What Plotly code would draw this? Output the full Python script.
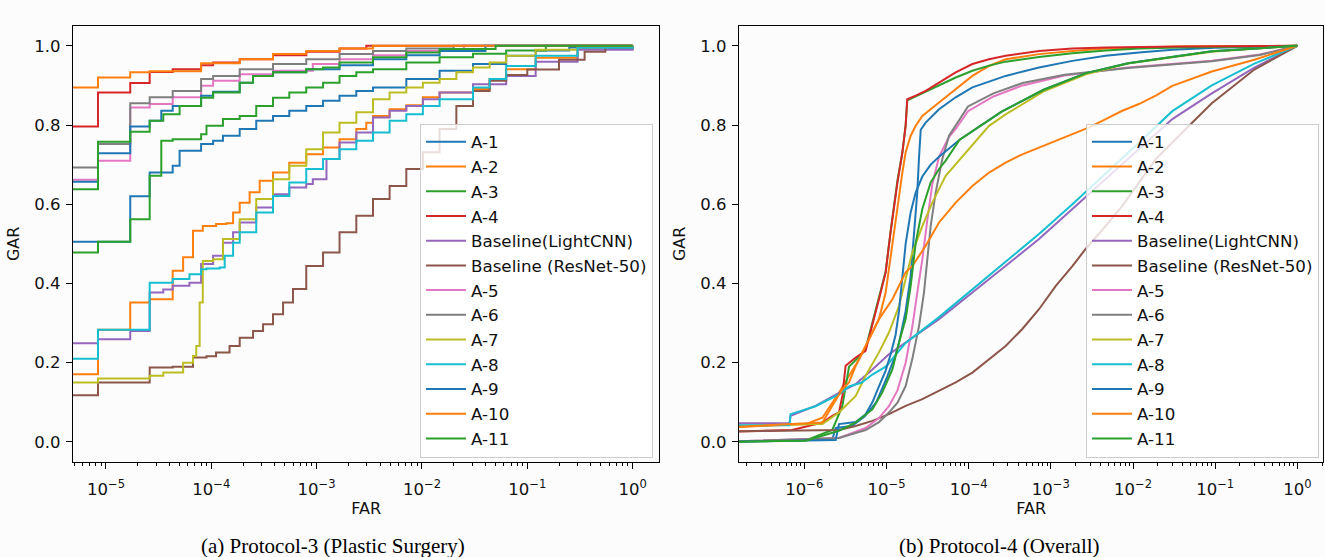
import plotly.graph_objects as go

# ---------------- legend / colours ----------------
NAMES = ["A-1", "A-2", "A-3", "A-4", "Baseline(LightCNN)", "Baseline (ResNet-50)",
         "A-5", "A-6", "A-7", "A-8", "A-9", "A-10", "A-11"]
COLORS = ["#1f77b4", "#ff7f0e", "#2ca02c", "#d62728", "#9467bd", "#8c564b",
          "#e377c2", "#7f7f7f", "#bcbd22", "#17becf", "#1f77b4", "#ff7f0e", "#2ca02c"]

X_TICK_TEXT_P3 = ["10<sup>−5</sup>", "10<sup>−4</sup>", "10<sup>−3</sup>", "10<sup>−2</sup>", "10<sup>−1</sup>", "10<sup>0</sup>"]
X_TICK_VALS_P3 = [1e-5, 1e-4, 1e-3, 1e-2, 1e-1, 1.0]
X_TICK_TEXT_P4 = ["10<sup>−6</sup>"] + X_TICK_TEXT_P3
X_TICK_VALS_P4 = [1e-6] + X_TICK_VALS_P3
Y_TICK_VALS = [0.0, 0.2, 0.4, 0.6, 0.8, 1.0]
Y_TICK_TEXT = ["0.0", "0.2", "0.4", "0.6", "0.8", "1.0"]

# ---------------- Protocol-3 (Plastic Surgery) ----------------
P3_A1_FAR = [1e-6, 1.7e-5, 2.6e-5, 4.3e-5, 5.0e-5, 8.0e-5, 1.04e-4, 1.29e-4, 1.86e-4, 2.67e-4, 3.85e-4, 5.5e-4, 7.97e-4, 1.15e-3, 1.65e-3, 2.38e-3, 3.43e-3, 7.1e-3, 1.47e-2, 3.05e-2, 6.3e-2, 0.12, 0.25, 1.0]
P3_A1_GAR = [0.505, 0.620, 0.680, 0.697, 0.735, 0.752, 0.760, 0.773, 0.790, 0.811, 0.823, 0.836, 0.848, 0.861, 0.874, 0.886, 0.895, 0.916, 0.937, 0.954, 0.975, 0.988, 0.996, 1.0]

P3_A2_FAR = [1e-6, 8.4e-6, 1.7e-5, 2.6e-5, 4.3e-5, 5.4e-5, 6.7e-5, 8.3e-5, 1.11e-4, 1.39e-4, 1.61e-4, 1.86e-4, 2.31e-4, 2.88e-4, 3.85e-4, 5.5e-4, 7.97e-4, 1.15e-3, 1.65e-3, 2.38e-3, 2.96e-3, 3.43e-3, 4.93e-3, 7.1e-3, 1.02e-2, 1.47e-2, 3.05e-2, 4.39e-2, 6.3e-2, 0.12, 0.3, 1.0]
P3_A2_GAR = [0.171, 0.283, 0.352, 0.360, 0.432, 0.466, 0.533, 0.545, 0.550, 0.552, 0.579, 0.604, 0.630, 0.659, 0.680, 0.705, 0.726, 0.743, 0.764, 0.790, 0.806, 0.823, 0.840, 0.850, 0.870, 0.882, 0.891, 0.916, 0.941, 0.970, 0.993, 1.0]

P3_A3_FAR = [1e-6, 8.4e-6, 1.7e-5, 2.6e-5, 3.35e-5, 4.3e-5, 8.0e-5, 9.0e-5, 1.29e-4, 1.86e-4, 2.67e-4, 3.85e-4, 5.5e-4, 7.97e-4, 1.15e-3, 1.65e-3, 2.38e-3, 3.43e-3, 7.1e-3, 1.47e-2, 3.05e-2, 6.3e-2, 0.15, 1.0]
P3_A3_GAR = [0.478, 0.505, 0.562, 0.672, 0.760, 0.764, 0.777, 0.798, 0.815, 0.823, 0.848, 0.869, 0.882, 0.895, 0.907, 0.924, 0.933, 0.941, 0.958, 0.971, 0.980, 0.988, 1.0, 1.0]

P3_A4_FAR = [1e-6, 8.4e-6, 1.7e-5, 2.6e-5, 4.3e-5, 8.0e-5, 1.04e-4, 1.86e-4, 3.85e-4, 7.97e-4, 1.65e-3, 2.96e-3, 1.0]
P3_A4_GAR = [0.796, 0.882, 0.906, 0.934, 0.941, 0.951, 0.958, 0.966, 0.976, 0.985, 0.993, 1.0, 1.0]

P3_LCNN_FAR = [1e-6, 8.4e-6, 1.7e-5, 2.6e-5, 3.5e-5, 4.3e-5, 6.2e-5, 8.0e-5, 1.04e-4, 1.29e-4, 1.61e-4, 1.86e-4, 2.67e-4, 3.85e-4, 5.5e-4, 7.97e-4, 9.2e-4, 1.24e-3, 1.65e-3, 2.38e-3, 3.43e-3, 4.93e-3, 7.1e-3, 1.02e-2, 1.47e-2, 3.05e-2, 6.3e-2, 0.12, 0.3, 1.0]
P3_LCNN_GAR = [0.249, 0.259, 0.280, 0.377, 0.385, 0.394, 0.402, 0.449, 0.470, 0.503, 0.529, 0.554, 0.592, 0.625, 0.642, 0.651, 0.663, 0.714, 0.756, 0.781, 0.819, 0.836, 0.848, 0.865, 0.882, 0.903, 0.924, 0.960, 0.990, 1.0]

P3_RES_FAR = [1e-6, 8.4e-6, 2.6e-5, 4.3e-5, 6.7e-5, 9.0e-5, 1.11e-4, 1.49e-4, 1.86e-4, 2.49e-4, 3.1e-4, 3.85e-4, 4.8e-4, 5.96e-4, 7.97e-4, 1.15e-3, 1.65e-3, 2.38e-3, 3.43e-3, 4.93e-3, 7.1e-3, 1.02e-2, 1.47e-2, 2.12e-2, 3.05e-2, 4.39e-2, 6.3e-2, 0.1, 0.2, 0.35, 0.55, 1.0]
P3_RES_GAR = [0.118, 0.150, 0.188, 0.190, 0.213, 0.216, 0.226, 0.242, 0.263, 0.280, 0.297, 0.322, 0.352, 0.386, 0.444, 0.478, 0.529, 0.571, 0.613, 0.646, 0.689, 0.731, 0.790, 0.848, 0.886, 0.912, 0.926, 0.940, 0.965, 0.985, 0.995, 1.0]

P3_A5_FAR = [1e-6, 8.4e-6, 1.7e-5, 2.6e-5, 4.3e-5, 8.0e-5, 1.04e-4, 1.86e-4, 3.85e-4, 9.2e-4, 1.65e-3, 3.43e-3, 7.1e-3, 2.5e-2, 1.0]
P3_A5_GAR = [0.662, 0.710, 0.844, 0.853, 0.870, 0.899, 0.912, 0.928, 0.937, 0.954, 0.966, 0.976, 0.987, 1.0, 1.0]

P3_A6_FAR = [1e-6, 8.4e-6, 1.7e-5, 2.6e-5, 4.3e-5, 8.0e-5, 1.04e-4, 1.86e-4, 3.85e-4, 7.97e-4, 1.65e-3, 3.43e-3, 7.1e-3, 2.0e-2, 1.0]
P3_A6_GAR = [0.693, 0.752, 0.855, 0.870, 0.886, 0.916, 0.924, 0.941, 0.954, 0.966, 0.979, 0.987, 0.993, 1.0, 1.0]

P3_A7_FAR = [1e-6, 8.4e-6, 2.6e-5, 3.5e-5, 5.4e-5, 6.7e-5, 7.2e-5, 7.75e-5, 8.3e-5, 1.04e-4, 1.29e-4, 1.86e-4, 2.67e-4, 3.85e-4, 5.5e-4, 7.97e-4, 1.15e-3, 1.65e-3, 2.38e-3, 3.43e-3, 4.93e-3, 7.1e-3, 1.02e-2, 1.47e-2, 2.12e-2, 3.05e-2, 4.39e-2, 6.3e-2, 0.12, 0.3, 1.0]
P3_A7_GAR = [0.150, 0.160, 0.167, 0.175, 0.200, 0.217, 0.242, 0.352, 0.457, 0.461, 0.512, 0.562, 0.613, 0.663, 0.697, 0.739, 0.781, 0.806, 0.832, 0.865, 0.882, 0.895, 0.907, 0.916, 0.933, 0.945, 0.958, 0.975, 0.990, 0.998, 1.0]

P3_A8_FAR = [1e-6, 8.4e-6, 2.6e-5, 4.3e-5, 6.2e-5, 8.0e-5, 9.0e-5, 1.2e-4, 1.34e-4, 1.61e-4, 1.86e-4, 2.67e-4, 3.85e-4, 5.5e-4, 7.97e-4, 1.15e-3, 1.65e-3, 2.38e-3, 3.43e-3, 4.93e-3, 7.1e-3, 1.02e-2, 1.47e-2, 3.05e-2, 4.39e-2, 6.3e-2, 0.12, 0.3, 1.0]
P3_A8_GAR = [0.210, 0.283, 0.402, 0.411, 0.423, 0.436, 0.438, 0.440, 0.470, 0.503, 0.529, 0.579, 0.621, 0.655, 0.689, 0.714, 0.739, 0.760, 0.781, 0.811, 0.827, 0.848, 0.865, 0.895, 0.916, 0.949, 0.975, 0.995, 1.0]

P3_A9_FAR = [1e-6, 8.4e-6, 1.7e-5, 2.6e-5, 3.35e-5, 4.3e-5, 8.0e-5, 1.04e-4, 1.86e-4, 2.49e-4, 3.85e-4, 7.97e-4, 1.65e-3, 3.43e-3, 7.1e-3, 1.47e-2, 4.0e-2, 1.0]
P3_A9_GAR = [0.657, 0.729, 0.796, 0.811, 0.836, 0.848, 0.874, 0.884, 0.907, 0.924, 0.933, 0.941, 0.951, 0.966, 0.976, 0.987, 1.0, 1.0]

P3_A10_FAR = [1e-6, 8.4e-6, 1.7e-5, 2.6e-5, 8.0e-5, 1.86e-4, 3.85e-4, 7.97e-4, 1.65e-3, 3.43e-3, 1.0]
P3_A10_GAR = [0.895, 0.920, 0.933, 0.936, 0.956, 0.966, 0.979, 0.987, 0.993, 1.0, 1.0]

P3_A11_FAR = [1e-6, 8.4e-6, 1.7e-5, 2.6e-5, 3.5e-5, 5.0e-5, 8.0e-5, 1.04e-4, 1.86e-4, 2.49e-4, 3.85e-4, 7.97e-4, 1.15e-3, 1.65e-3, 3.43e-3, 7.1e-3, 1.47e-2, 5.0e-2, 1.0]
P3_A11_GAR = [0.638, 0.758, 0.783, 0.811, 0.827, 0.848, 0.869, 0.882, 0.907, 0.924, 0.933, 0.941, 0.945, 0.958, 0.971, 0.983, 0.992, 1.0, 1.0]

# ---------------- Protocol-4 (Overall) ----------------
P4_A1_FAR = [1e-7, 2.19e-6, 2.41e-6, 3.8e-6, 5.4e-6, 7.5e-6, 1.0e-5, 1.29e-5, 1.42e-5, 1.71e-5, 1.97e-5, 2.16e-5, 2.37e-5, 2.49e-5, 2.61e-5, 3.0e-5, 4.36e-5, 6.95e-5, 1.11e-4, 2.82e-4, 7.18e-4, 1.83e-3, 4.65e-3, 1.18e-2, 3.01e-2, 0.1, 1.0]
P4_A1_GAR = [0.0, 0.006, 0.035, 0.040, 0.064, 0.10, 0.16, 0.22, 0.25, 0.33, 0.42, 0.52, 0.63, 0.72, 0.788, 0.806, 0.840, 0.870, 0.895, 0.924, 0.945, 0.962, 0.975, 0.983, 0.990, 0.995, 1.0]

P4_A2_FAR = [1e-7, 1.04e-6, 1.66e-6, 2.64e-6, 3.5e-6, 4.63e-6, 6.12e-6, 8.1e-6, 9.77e-6, 1.18e-5, 1.36e-5, 1.56e-5, 1.71e-5, 1.97e-5, 2.27e-5, 2.73e-5, 4.36e-5, 6.95e-5, 1.11e-4, 1.77e-4, 2.82e-4, 7.18e-4, 1.83e-3, 4.65e-3, 3.63e-2, 1.0]
P4_A2_GAR = [0.036, 0.045, 0.061, 0.124, 0.167, 0.208, 0.259, 0.310, 0.377, 0.503, 0.596, 0.680, 0.731, 0.773, 0.798, 0.823, 0.857, 0.891, 0.924, 0.949, 0.966, 0.979, 0.987, 0.993, 0.998, 1.0]

P4_A3_FAR = [1e-7, 1.04e-6, 2.19e-6, 2.9e-6, 3.5e-6, 4.63e-6, 5.57e-6, 6.73e-6, 8.1e-6, 9.77e-6, 1.12e-5, 1.36e-5, 1.56e-5, 1.71e-5, 1.79e-5, 2.27e-5, 3.0e-5, 4.36e-5, 6.95e-5, 1.11e-4, 1.77e-4, 2.82e-4, 7.18e-4, 1.83e-3, 4.65e-3, 1.18e-2, 3.63e-2, 1.0]
P4_A3_GAR = [0.0, 0.004, 0.030, 0.090, 0.190, 0.215, 0.235, 0.300, 0.360, 0.430, 0.530, 0.660, 0.730, 0.800, 0.862, 0.872, 0.884, 0.900, 0.920, 0.937, 0.950, 0.960, 0.972, 0.981, 0.988, 0.993, 0.996, 1.0]

P4_A4_FAR = [1e-7, 7.1e-7, 1.66e-6, 2.19e-6, 2.64e-6, 2.9e-6, 3.18e-6, 4.22e-6, 5.57e-6, 6.73e-6, 8.1e-6, 9.77e-6, 1.12e-5, 1.36e-5, 1.56e-5, 1.71e-5, 1.79e-5, 2.27e-5, 3.0e-5, 4.36e-5, 6.95e-5, 1.11e-4, 1.77e-4, 2.82e-4, 7.18e-4, 1.83e-3, 4.65e-3, 3.63e-2, 1.0]
P4_A4_GAR = [0.025, 0.030, 0.049, 0.066, 0.074, 0.116, 0.192, 0.213, 0.230, 0.293, 0.360, 0.428, 0.529, 0.655, 0.731, 0.798, 0.865, 0.874, 0.886, 0.907, 0.933, 0.954, 0.966, 0.975, 0.987, 0.993, 0.996, 0.998, 1.0]

P4_LCNN_FAR = [1e-7, 6.6e-7, 6.8e-7, 1.37e-6, 2.64e-6, 4.22e-6, 6.73e-6, 1.07e-5, 1.71e-5, 4.36e-5, 1.11e-4, 2.82e-4, 7.18e-4, 1.83e-3, 4.65e-3, 1.18e-2, 3.01e-2, 9.1e-2, 0.3, 1.0]
P4_LCNN_GAR = [0.047, 0.047, 0.066, 0.091, 0.124, 0.146, 0.183, 0.221, 0.251, 0.310, 0.377, 0.444, 0.512, 0.588, 0.663, 0.739, 0.815, 0.880, 0.945, 1.0]

P4_RES_FAR = [1e-7, 2.64e-6, 4.22e-6, 6.73e-6, 1.07e-5, 1.71e-5, 2.73e-5, 4.36e-5, 6.95e-5, 1.11e-4, 1.77e-4, 2.82e-4, 4.5e-4, 7.18e-4, 1.15e-3, 1.83e-3, 2.65e-3, 4.65e-3, 7.41e-3, 1.18e-2, 1.89e-2, 3.63e-2, 9.1e-2, 0.3, 1.0]
P4_RES_GAR = [0.026, 0.030, 0.040, 0.053, 0.070, 0.091, 0.108, 0.129, 0.150, 0.175, 0.209, 0.242, 0.285, 0.335, 0.394, 0.444, 0.487, 0.545, 0.596, 0.655, 0.714, 0.773, 0.855, 0.940, 1.0]

P4_A5_FAR = [1e-7, 2.64e-6, 5.57e-6, 8.1e-6, 1.07e-5, 1.36e-5, 1.71e-5, 2.06e-5, 2.37e-5, 2.73e-5, 3.14e-5, 3.61e-5, 4.36e-5, 5.77e-5, 6.95e-5, 9.82e-5, 2.0e-4, 4.54e-4, 1.47e-3, 8.69e-3, 9.1e-2, 0.35, 1.0]
P4_A5_GAR = [0.0, 0.010, 0.035, 0.060, 0.090, 0.130, 0.200, 0.290, 0.377, 0.461, 0.560, 0.650, 0.720, 0.770, 0.790, 0.835, 0.872, 0.900, 0.925, 0.945, 0.962, 0.978, 1.0]

P4_A6_FAR = [1e-7, 2.64e-6, 5.57e-6, 8.1e-6, 1.07e-5, 1.36e-5, 1.71e-5, 2.06e-5, 2.49e-5, 2.86e-5, 3.14e-5, 3.45e-5, 3.97e-5, 4.78e-5, 5.77e-5, 6.95e-5, 9.82e-5, 2.0e-4, 4.54e-4, 1.47e-3, 8.69e-3, 9.1e-2, 0.35, 1.0]
P4_A6_GAR = [0.0, 0.010, 0.030, 0.050, 0.074, 0.099, 0.141, 0.209, 0.293, 0.377, 0.461, 0.545, 0.630, 0.714, 0.773, 0.798, 0.847, 0.880, 0.906, 0.927, 0.944, 0.961, 0.977, 1.0]

P4_A7_FAR = [1e-7, 1.66e-6, 2.64e-6, 4.22e-6, 5.57e-6, 8.1e-6, 1.07e-5, 1.42e-5, 1.71e-5, 2.06e-5, 2.73e-5, 3.61e-5, 5.25e-5, 9.2e-5, 1.77e-4, 2.82e-4, 8.18e-4, 2.68e-3, 8.69e-3, 9.1e-2, 1.0]
P4_A7_GAR = [0.040, 0.045, 0.074, 0.116, 0.167, 0.226, 0.276, 0.343, 0.411, 0.478, 0.545, 0.604, 0.672, 0.731, 0.798, 0.827, 0.885, 0.928, 0.955, 0.985, 1.0]

P4_A8_FAR = [1e-7, 6.6e-7, 6.8e-7, 1.37e-6, 2.64e-6, 3.5e-6, 5.0e-6, 6.73e-6, 9.8e-6, 1.71e-5, 4.36e-5, 1.11e-4, 2.82e-4, 7.18e-4, 1.83e-3, 4.65e-3, 1.18e-2, 3.01e-2, 9.1e-2, 0.3, 1.0]
P4_A8_GAR = [0.042, 0.042, 0.070, 0.090, 0.120, 0.140, 0.150, 0.170, 0.190, 0.250, 0.315, 0.385, 0.455, 0.525, 0.600, 0.677, 0.755, 0.835, 0.900, 0.955, 1.0]

P4_A9_FAR = [1e-7, 2.41e-6, 2.64e-6, 4.22e-6, 5.57e-6, 6.73e-6, 8.1e-6, 9.77e-6, 1.12e-5, 1.29e-5, 1.42e-5, 1.56e-5, 1.71e-5, 1.97e-5, 2.27e-5, 2.73e-5, 3.45e-5, 4.36e-5, 7.77e-5, 2.52e-4, 8.18e-4, 2.68e-3, 8.69e-3, 9.1e-2, 1.0]
P4_A9_GAR = [0.0, 0.005, 0.045, 0.050, 0.070, 0.100, 0.140, 0.180, 0.220, 0.270, 0.330, 0.420, 0.500, 0.580, 0.630, 0.670, 0.700, 0.720, 0.763, 0.834, 0.889, 0.931, 0.956, 0.986, 1.0]

P4_A10_FAR = [1e-7, 1.66e-6, 2.19e-6, 2.9e-6, 3.5e-6, 4.22e-6, 5.57e-6, 8.1e-6, 1.18e-5, 1.71e-5, 2.06e-5, 3.0e-5, 4.36e-5, 6.95e-5, 1.11e-4, 1.77e-4, 2.82e-4, 4.5e-4, 7.18e-4, 1.15e-3, 1.83e-3, 2.92e-3, 4.65e-3, 7.41e-3, 1.18e-2, 1.89e-2, 3.01e-2, 9.1e-2, 0.3, 1.0]
P4_A10_GAR = [0.036, 0.049, 0.091, 0.133, 0.150, 0.192, 0.242, 0.310, 0.360, 0.428, 0.444, 0.495, 0.554, 0.604, 0.646, 0.680, 0.705, 0.726, 0.743, 0.760, 0.777, 0.794, 0.815, 0.836, 0.853, 0.874, 0.899, 0.935, 0.965, 1.0]

P4_A11_FAR = [1e-7, 1.04e-6, 2.64e-6, 4.22e-6, 6.73e-6, 8.9e-6, 1.18e-5, 1.42e-5, 1.71e-5, 1.97e-5, 2.27e-5, 2.73e-5, 3.45e-5, 4.36e-5, 5.25e-5, 7.77e-5, 2.52e-4, 8.18e-4, 2.68e-3, 8.69e-3, 9.1e-2, 1.0]
P4_A11_GAR = [0.0, 0.003, 0.028, 0.049, 0.082, 0.125, 0.183, 0.251, 0.310, 0.394, 0.503, 0.588, 0.655, 0.689, 0.710, 0.763, 0.834, 0.889, 0.931, 0.956, 0.986, 1.0]

P3_SERIES = [(P3_A1_FAR, P3_A1_GAR), (P3_A2_FAR, P3_A2_GAR), (P3_A3_FAR, P3_A3_GAR), (P3_A4_FAR, P3_A4_GAR),
             (P3_LCNN_FAR, P3_LCNN_GAR), (P3_RES_FAR, P3_RES_GAR), (P3_A5_FAR, P3_A5_GAR), (P3_A6_FAR, P3_A6_GAR),
             (P3_A7_FAR, P3_A7_GAR), (P3_A8_FAR, P3_A8_GAR), (P3_A9_FAR, P3_A9_GAR), (P3_A10_FAR, P3_A10_GAR),
             (P3_A11_FAR, P3_A11_GAR)]
P4_SERIES = [(P4_A1_FAR, P4_A1_GAR), (P4_A2_FAR, P4_A2_GAR), (P4_A3_FAR, P4_A3_GAR), (P4_A4_FAR, P4_A4_GAR),
             (P4_LCNN_FAR, P4_LCNN_GAR), (P4_RES_FAR, P4_RES_GAR), (P4_A5_FAR, P4_A5_GAR), (P4_A6_FAR, P4_A6_GAR),
             (P4_A7_FAR, P4_A7_GAR), (P4_A8_FAR, P4_A8_GAR), (P4_A9_FAR, P4_A9_GAR), (P4_A10_FAR, P4_A10_GAR),
             (P4_A11_FAR, P4_A11_GAR)]

W, H = 1325, 557
FONT = "DejaVu Sans"
TXT = "#111111"
LW = 2.0

fig = go.Figure()
for i, (fx, gy) in enumerate(P3_SERIES):
    fig.add_trace(go.Scatter(x=fx, y=gy, mode="lines", name=NAMES[i],
                             line=dict(color=COLORS[i], width=LW, shape="hv"),
                             xaxis="x", yaxis="y", legend="legend"))
for i, (fx, gy) in enumerate(P4_SERIES):
    fig.add_trace(go.Scatter(x=fx, y=gy, mode="lines", name=NAMES[i],
                             line=dict(color=COLORS[i], width=LW),
                             xaxis="x2", yaxis="y2", legend="legend2"))

minor_vals = [m * 10.0 ** k for k in range(-8, 1) for m in range(2, 10)]

def xaxis_cfg(domain, rng, tv, tt, anchor):
    return dict(type="log", domain=domain, range=rng, anchor=anchor,
                tickmode="array", tickvals=tv, ticktext=tt,
                ticks="outside", ticklen=6, tickwidth=1.1, tickcolor="black",
                ticklabelstandoff=6,
                minor=dict(tickmode="array", tickvals=minor_vals, ticks="outside",
                           ticklen=3.3, tickwidth=0.9, tickcolor="black", showgrid=False),
                showline=True, linecolor="black", linewidth=1.2, mirror=True,
                showgrid=False, zeroline=False,
                tickfont=dict(family=FONT, size=16.5, color=TXT),
                title=dict(text="FAR", font=dict(family=FONT, size=16, color=TXT), standoff=5))

def yaxis_cfg(domain, anchor):
    return dict(domain=domain, range=[-0.05, 1.05], anchor=anchor,
                tickmode="array", tickvals=Y_TICK_VALS, ticktext=Y_TICK_TEXT,
                ticks="outside", ticklen=6, tickwidth=1.1, tickcolor="black",
                ticklabelstandoff=2,
                showline=True, linecolor="black", linewidth=1.2, mirror=True,
                showgrid=False, zeroline=False,
                tickfont=dict(family=FONT, size=16.5, color=TXT),
                title=dict(text="GAR", font=dict(family=FONT, size=16, color=TXT), standoff=10))

ydom = [(H - 461.7) / H, (H - 26) / H]
legend_common = dict(bgcolor="rgba(255,255,255,0.8)", bordercolor="#cccccc", borderwidth=1,
                     font=dict(family=FONT, size=16.7, color=TXT), itemwidth=40,
                     xanchor="left", yanchor="top", tracegroupgap=0)

fig.update_layout(
    width=W, height=H,
    margin=dict(l=0, r=0, t=0, b=0),
    paper_bgcolor="#fcfcfc", plot_bgcolor="#fcfcfc",
    xaxis=xaxis_cfg([73 / W, 659.3 / W], [-5.313, 0.253], X_TICK_VALS_P3, X_TICK_TEXT_P3, "y"),
    yaxis=yaxis_cfg(ydom, "x"),
    xaxis2=xaxis_cfg([739 / W, 1323.3 / W], [-6.795, 0.316], X_TICK_VALS_P4, X_TICK_TEXT_P4, "y2"),
    yaxis2=yaxis_cfg(ydom, "x2"),
    legend=dict(x=420 / W, y=(H - 123.5) / H, **legend_common),
    legend2=dict(x=1086 / W, y=(H - 123.5) / H, **legend_common),
    showlegend=True,
    annotations=[
        dict(text="(a) Protocol-3 (Plastic Surgery)", x=333 / W, y=(H - 546) / H, xref="paper", yref="paper",
             showarrow=False, xanchor="center", yanchor="middle",
             font=dict(family="Liberation Serif", size=21, color="black")),
        dict(text="(b) Protocol-4 (Overall)", x=999 / W, y=(H - 546) / H, xref="paper", yref="paper",
             showarrow=False, xanchor="center", yanchor="middle",
             font=dict(family="Liberation Serif", size=21, color="black")),
    ],
)

fig.write_html("out.html", config={"displayModeBar": False},
               post_script="document.body.style.margin='0';document.body.style.overflow='hidden';")
